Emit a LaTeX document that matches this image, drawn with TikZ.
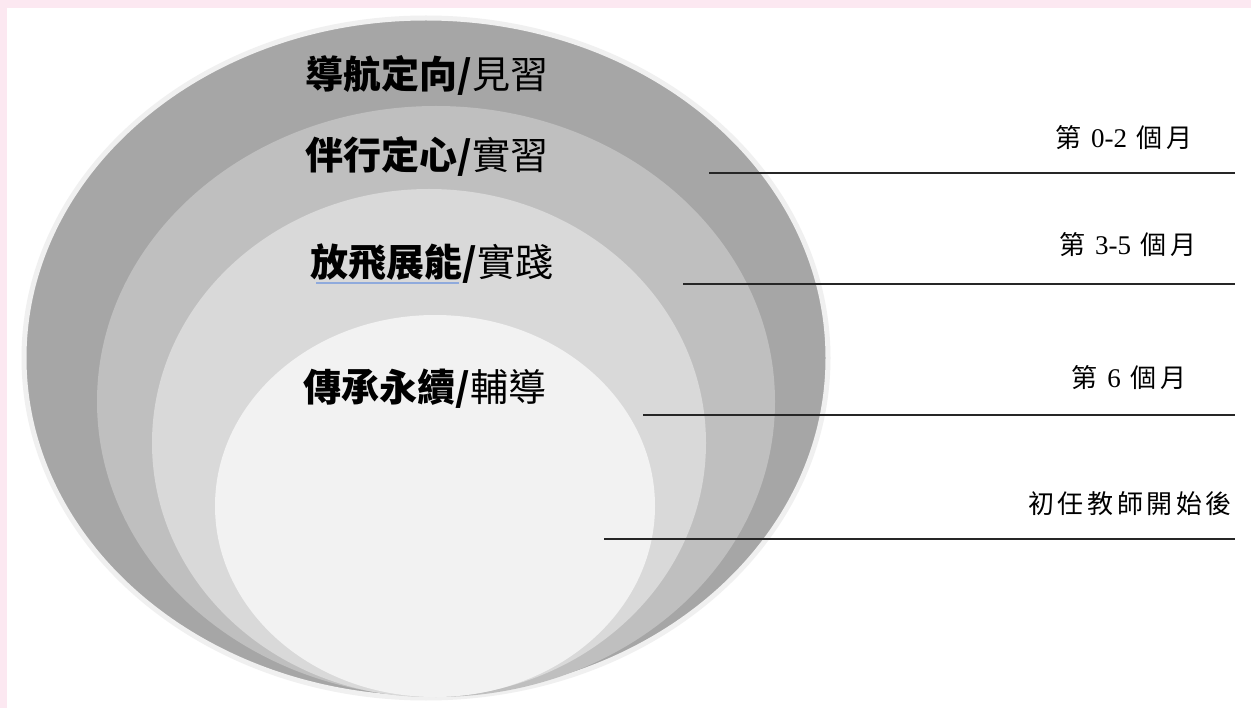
\documentclass[tikz,border=0pt]{standalone}
\usepackage{fontspec}
\setmainfont{Liberation Serif}
\newfontfamily\cjk{Noto Sans CJK TC}
\newfontfamily\cjkl[LetterSpace=14]{Noto Sans CJK TC}
\newfontfamily\tnr{Liberation Serif}
\definecolor{pinkbg}{RGB}{252,232,241}
\definecolor{rim}{RGB}{240,240,240}
\definecolor{lvA}{RGB}{166,166,166}
\definecolor{lvB}{RGB}{191,191,191}
\definecolor{lvC}{RGB}{217,217,217}
\definecolor{lvD}{RGB}{242,242,242}
\definecolor{spell}{RGB}{143,170,220}
\begin{document}
\begin{tikzpicture}[x=1pt,y=-1pt,
  stage/.style={font=\cjk\fontsize{38}{42}\selectfont, inner sep=0pt},
  period/.style={font=\cjkl\fontsize{26}{30}\selectfont, inner sep=0pt},
  tick/.style={draw=black!85, line width=2pt}]
\useasboundingbox (0,0) rectangle (1251,708);
\fill[white] (0,0) rectangle (1251,708);
\fill[pinkbg] (0,0) rectangle (1251,8);
\fill[pinkbg] (0,0) rectangle (7,708);
% nested ellipses
\fill[lvA, draw=rim, line width=5pt] (426,358) ellipse [x radius=402pt, y radius=340pt];
\fill[lvB] (436,401.5) ellipse [x radius=339pt, y radius=295.5pt];
\fill[lvC] (429,443) ellipse [x radius=277pt, y radius=254pt];
\fill[lvD] (435,506) ellipse [x radius=220pt, y radius=191pt];
% stage titles
\node[stage] (s1) at (427,75) {\bfseries 導航定向/\mdseries 見習};
\node[stage] (s2) at (427,156) {\bfseries 伴行定心/\mdseries 實習};
\node[stage] (s3) at (432,264) {\bfseries 放飛展能/\mdseries 實踐};
\node[stage] (s4) at (425,389) {\bfseries 傳承永續/\mdseries 輔導};
\coordinate (u1) at (316,283);
\coordinate (u2) at (459,283);
\draw[spell, line width=1.5pt] (u1) -- (u2);
% leader lines
\coordinate (l1a) at (709,173); \coordinate (l1b) at (1235,173);
\coordinate (l2a) at (683,284); \coordinate (l2b) at (1235,284);
\coordinate (l3a) at (643,415); \coordinate (l3b) at (1235,415);
\coordinate (l4a) at (604,539); \coordinate (l4b) at (1235,539);
\draw[tick] (l1a) -- (l1b);
\draw[tick] (l2a) -- (l2b);
\draw[tick] (l3a) -- (l3b);
\draw[tick] (l4a) -- (l4b);
% period labels
\node[period] (p1) at (1124,138) {第 {\tnr\fontsize{27}{30}\selectfont 0-2} 個月};
\node[period] (p2) at (1128,245) {第 {\tnr\fontsize{27}{30}\selectfont 3-5} 個月};
\node[period] (p3) at (1129,378) {第 {\tnr\fontsize{27}{30}\selectfont 6} 個月};
\node[period] (p4) at (1130,504) {初任教師開始後};
\end{tikzpicture}
\end{document}
